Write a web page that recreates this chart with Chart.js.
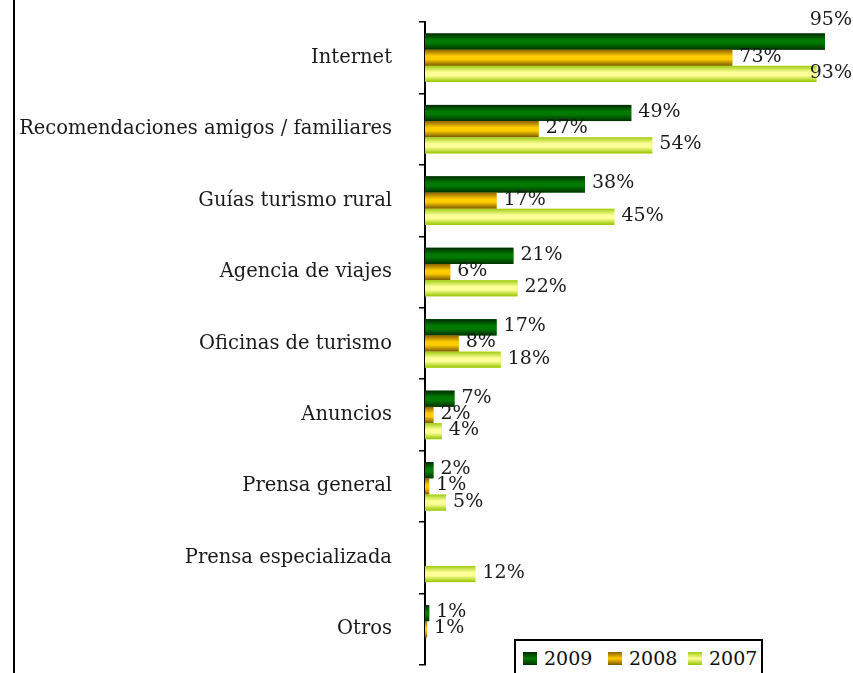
<!DOCTYPE html>
<html>
<head>
<meta charset="utf-8">
<script src="https://cdn.jsdelivr.net/npm/chart.js@4.4.1/dist/chart.umd.min.js"></script>
<style>
  html, body { margin: 0; padding: 0; background: #fff; overflow: hidden; }
  #wrap { position: relative; width: 853px; height: 673px; }
  #marco { position: absolute; left: 13px; top: 0; width: 2px; height: 673px; background: #000; }
  #leyenda {
    position: absolute; left: 514px; top: 639px; width: 245px; height: 40px;
    border: 2px solid #000; background: #fff;
    font-family: 'DejaVu Serif', serif; font-size: 19px; color: #111;
  }
  .item { position: absolute; top: 8px; }
  .item i { position: absolute; top: 3px; left: 0; width: 14px; height: 13px; }
  .item span { position: absolute; left: 21px; top: -2px; }
</style>
</head>
<body>
<div id="wrap">
  <canvas id="grafico" width="853" height="673"></canvas>
  <div id="marco"></div>
  <div id="leyenda"></div>
</div>
<script>
// Datos
const categorias = ['Internet', 'Recomendaciones amigos / familiares', 'Guías turismo rural',
  'Agencia de viajes', 'Oficinas de turismo', 'Anuncios', 'Prensa general',
  'Prensa especializada', 'Otros'];
const anios = ['2009', '2008', '2007'];
const valores2009 = [95, 49, 38, 21, 17, 7, 2, null, 1];
const valores2008 = [73, 27, 17, 6, 8, 2, 1, null, 0.5];
const valores2007 = [93, 54, 45, 22, 18, 4, 5, 12, null];

// colores de degradado (borde sup, centro, borde inf)
const degradados = [
  ['#002a00', '#007a00', '#003000'],
  ['#8c6200', '#ffcc00', '#7a5800'],
  ['#9fcc14', '#ffff99', '#94c400']
];

const fuente = "'DejaVu Serif', serif";

function hacerDegradado(ctx, y0, y1, c) {
  const g = ctx.createLinearGradient(0, y0, 0, y1);
  g.addColorStop(0, c[0]);
  g.addColorStop(0.4, c[1]);
  g.addColorStop(0.6, c[1]);
  g.addColorStop(1, c[2]);
  return g;
}

// degradado sobre cada barra + etiquetas de valor
const pluginBarras = {
  id: 'barras',
  afterDatasetsDraw(chart) {
    const ctx = chart.ctx;
    ctx.save();
    chart.data.datasets.forEach((ds, i) => {
      chart.getDatasetMeta(i).data.forEach((bar, j) => {
        if (ds.data[j] === null) return;
        const h = bar.height;
        const x0 = Math.min(bar.base, bar.x);
        ctx.fillStyle = hacerDegradado(ctx, bar.y - h / 2, bar.y + h / 2, degradados[i]);
        ctx.fillRect(x0, bar.y - h / 2, Math.abs(bar.x - bar.base), h);
      });
    });
    ctx.font = '19px ' + fuente;
    ctx.fillStyle = '#1a1a1a';
    ctx.textBaseline = 'middle';
    chart.data.datasets.forEach((ds, i) => {
      chart.getDatasetMeta(i).data.forEach((bar, j) => {
        const v = ds.data[j];
        if (v === null) return;
        const txt = Math.round(v) + '%';
        const w = ctx.measureText(txt).width;
        let x = bar.x + 7;
        let y = bar.y - 1;
        if (x + w > chart.width - 1) {
          x = chart.width - 1 - w;
          if (i === 0) y -= 20;
        }
        ctx.fillText(txt, x, y);
      });
    });
    ctx.restore();
  }
};

new Chart(document.getElementById('grafico'), {
  type: 'bar',
  data: {
    labels: categorias,
    datasets: [
      { label: anios[0], data: valores2009, backgroundColor: degradados[0][1] },
      { label: anios[1], data: valores2008, backgroundColor: degradados[1][1] },
      { label: anios[2], data: valores2007, backgroundColor: degradados[2][1] }
    ].map(d => Object.assign(d, { categoryPercentage: 0.68, barPercentage: 1, borderWidth: 0 }))
  },
  options: {
    indexAxis: 'y',
    responsive: false,
    animation: false,
    layout: { padding: { top: 22, bottom: 8, right: 7, left: 0 } },
    plugins: {
      legend: { display: false },
      tooltip: { enabled: false }
    },
    scales: {
      x: { display: false, min: 0, max: 100 },
      y: {
        afterFit(scale) {
          scale.width = 425;
          scale.paddingTop = 0;
          scale.paddingBottom = 0;
        },
        border: { color: '#000', width: 2 },
        grid: { offset: true, drawOnChartArea: false, color: '#000', lineWidth: 1.5, tickLength: 6 },
        ticks: { color: '#1a1a1a', padding: 27, font: { family: fuente, size: 19.5 } }
      }
    }
  },
  plugins: [pluginBarras]
});

// Leyenda
const leyenda = document.getElementById('leyenda');
const posiciones = [7, 92, 172];
anios.forEach((a, i) => {
  const it = document.createElement('div');
  it.className = 'item';
  it.style.left = posiciones[i] + 'px';
  const c = degradados[i];
  it.innerHTML = `<i style="background:linear-gradient(${c[0]},${c[1]},${c[2]})"></i><span>${a}</span>`;
  leyenda.appendChild(it);
});
</script>
</body>
</html>
